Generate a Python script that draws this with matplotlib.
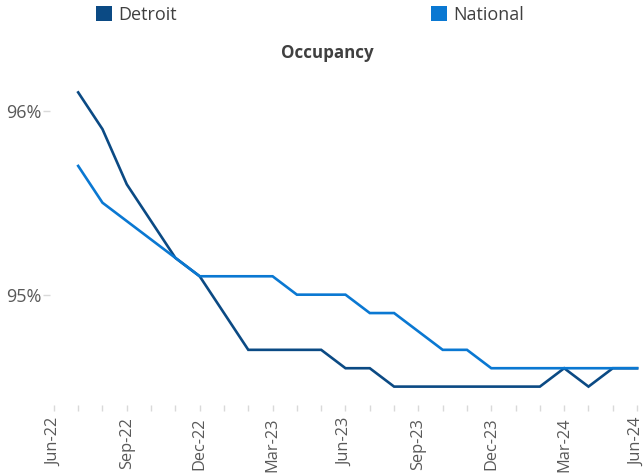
import matplotlib
matplotlib.use("Agg")
import matplotlib.pyplot as plt
from matplotlib.patches import Patch
from matplotlib.ticker import FixedLocator, FuncFormatter

plt.rcParams["font.family"] = ["Open Sans", "DejaVu Sans"]

# Monthly data, Jul-22 .. Jun-24
months = ["Jul-22", "Aug-22", "Sep-22", "Oct-22", "Nov-22", "Dec-22",
          "Jan-23", "Feb-23", "Mar-23", "Apr-23", "May-23", "Jun-23",
          "Jul-23", "Aug-23", "Sep-23", "Oct-23", "Nov-23", "Dec-23",
          "Jan-24", "Feb-24", "Mar-24", "Apr-24", "May-24", "Jun-24"]
detroit = [96.1, 95.9, 95.6, 95.4, 95.2, 95.1, 94.9, 94.7, 94.7, 94.7, 94.7, 94.6,
           94.6, 94.5, 94.5, 94.5, 94.5, 94.5, 94.5, 94.5, 94.6, 94.5, 94.6, 94.6]
national = [95.7, 95.5, 95.4, 95.3, 95.2, 95.1, 95.1, 95.1, 95.1, 95.0, 95.0, 95.0,
            94.9, 94.9, 94.8, 94.7, 94.7, 94.6, 94.6, 94.6, 94.6, 94.6, 94.6, 94.6]
tick_labels = ["Jun-22", "Sep-22", "Dec-22", "Mar-23", "Jun-23",
               "Sep-23", "Dec-23", "Mar-24", "Jun-24"]
y_ticks = [95, 96]

DETROIT_C = "#0B4A84"
NATIONAL_C = "#0A78D2"
TEXT_C = "#404040"
TICK_C = "#595959"
GRID_C = "#D9D9D9"

fig = plt.figure(figsize=(6.44, 4.73), dpi=100)
ax = fig.add_axes([50 / 644, 1 - 405 / 473, 590 / 644, 331 / 473])

x = list(range(len(months)))
ax.plot(x, detroit, color=DETROIT_C, linewidth=1.9, solid_joinstyle="miter")
ax.plot(x, national, color=NATIONAL_C, linewidth=1.9, solid_joinstyle="miter")

ax.set_xlim(-1.16, 23.12)
ax.set_ylim(94.4, 96.2)

# quarterly labels start one month before the first data point
major_pos = [-1 + 3 * i for i in range(len(tick_labels))]
ax.xaxis.set_major_locator(FixedLocator(major_pos))
ax.xaxis.set_minor_locator(FixedLocator(list(range(-1, 24))))
ax.set_xticklabels(tick_labels, rotation=90, fontsize=11.8, color=TICK_C)
ax.tick_params(axis="x", which="both", direction="out", length=4, width=1,
               color=GRID_C, pad=5)

ax.set_yticks(y_ticks)
ax.yaxis.set_major_formatter(FuncFormatter(lambda v, _: f"{v:.0f}%"))
ax.tick_params(axis="y", direction="out", length=5, width=1, color=GRID_C,
               labelsize=13, labelcolor=TICK_C, pad=1)

for s in ax.spines.values():
    s.set_visible(False)

fig.text(327 / 644, 1 - 53 / 473, "Occupancy", ha="center", va="center",
         fontsize=12.2, fontweight="bold", color=TEXT_C)

handles = [Patch(facecolor=DETROIT_C, edgecolor="none"),
           Patch(facecolor=NATIONAL_C, edgecolor="none")]
fig.legend(handles, ["Detroit", "National"], ncol=2, frameon=False,
           loc="center left", bbox_to_anchor=(96 / 644, 1 - 15 / 473),
           fontsize=13, labelcolor=TEXT_C, handlelength=0.88, handleheight=0.88,
           handletextpad=0.33, columnspacing=14.1, borderaxespad=0, borderpad=0)

fig.savefig("out.png", dpi=100)
